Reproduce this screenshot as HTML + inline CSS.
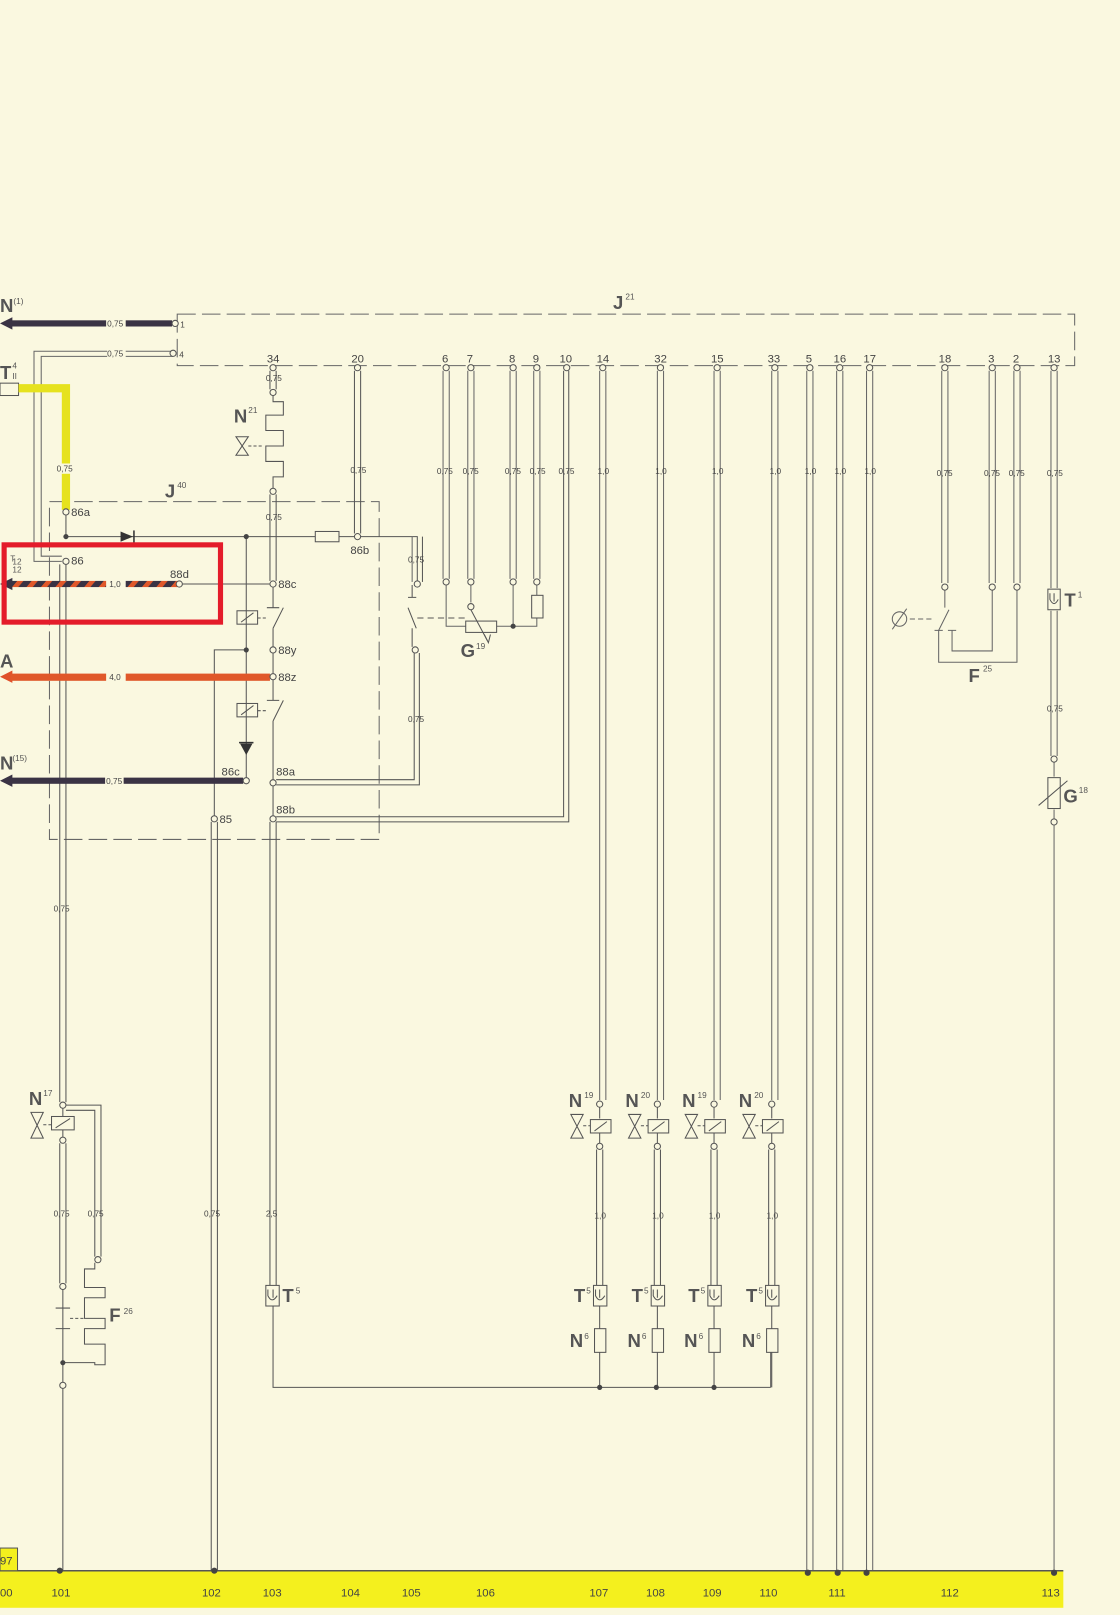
<!DOCTYPE html>
<html><head><meta charset="utf-8"><style>
html,body{margin:0;padding:0;background:#faf8e0;}
svg{display:block}
text{font-family:"Liberation Sans",sans-serif;fill:#444}
.s{font-size:8px}
.t{font-size:11px}
.b{font-size:18px;font-weight:bold;fill:#555}
.sup{font-size:8px;fill:#555}
</style></head><body>
<svg width="1120" height="1615" viewBox="0 0 1087 1568" preserveAspectRatio="none" xmlns="http://www.w3.org/2000/svg">
<rect width="1087" height="1568" fill="#faf8e0"/>
<defs>
<pattern id="str" width="14" height="8" patternUnits="userSpaceOnUse" patternTransform="skewX(-40)">
<rect width="14" height="8" fill="#3a3344"/><rect width="6" height="8" fill="#e0582a"/></pattern>
</defs>
<g stroke="#666" stroke-width="1" fill="none">
<!-- J21 box -->
<path d="M172 305 H1043 V355 H172 Z" stroke-dasharray="18 6"/>
<!-- J40 box -->
<path d="M48 487 H368 V815 H48 Z" stroke-dasharray="18 6"/>
</g>
<!-- labels boxes -->
<text x="595" y="300" class="b">J</text><text x="607" y="291" class="sup">21</text>
<text x="160" y="483" class="b">J</text><text x="172" y="474" class="sup">40</text>

<!-- Top arrows -->
<text x="0" y="303" class="b">N</text><text x="13" y="295" class="sup">(1)</text>
<path d="M0 314 L12 308 L12 320 Z" fill="#3a3344"/>
<rect x="10" y="311" width="93" height="6" fill="#3a3344"/><rect x="122" y="311" width="45" height="6" fill="#3a3344"/>
<text x="104" y="317" class="s">0,75</text>
<circle cx="170" cy="314" r="3" fill="#faf8e0" stroke="#555"/><text x="175" y="318" class="s">1</text>
<g stroke="#666" stroke-width="1" fill="none">
<path d="M168 341 H33 V545 H60"/><path d="M168 346 H40 V540 H60"/>
</g>
<rect x="104" y="339" width="18" height="8" fill="#faf8e0"/><text x="104" y="346" class="s">0,75</text>
<circle cx="168" cy="343" r="3" fill="#faf8e0" stroke="#555"/><text x="174" y="347" class="s">4</text>

<!-- T II connector + yellow -->
<text x="0" y="368" class="b">T</text><text x="12" y="358" class="sup">4</text><text x="12" y="368" class="sup">II</text>
<rect x="0" y="372" width="18" height="12" fill="#faf8e0" stroke="#555"/>
<path d="M18 377 H64 V495" stroke="#e6e21e" stroke-width="8" fill="none"/>
<rect x="54" y="450" width="20" height="10" fill="#faf8e0"/><text x="55" y="458" class="s">0,75</text>
<circle cx="64" cy="497" r="3" fill="#faf8e0" stroke="#555"/><text x="69" y="501" class="t">86a</text>
<text x="10" y="545" class="sup">T</text><text x="12" y="548" class="sup">12</text><text x="12" y="556" class="sup">12</text>

<g stroke="#555" stroke-width="1" fill="none">
<!-- 86a line -->
<path d="M64 500 V521 H405 V565"/><path d="M410 521 V565"/>
<path d="M400 521 V565" stroke="#666"/>
<!-- col 101 -->
<path d="M58 548 V1070"/><path d="M64 548 V1070"/>
<path d="M239 521 V760"/>
<path d="M239 631 H208 V795"/>
<path d="M174 567 H262"/>
<!-- col 34 -->
<path d="M262 360 V378"/><path d="M268 360 V378"/>
<path d="M265 383 V390 H275 V403 H258 V418 H275 V433 H258 V448 H275 V463 H265 V474"/>
<path d="M262 480 V564"/><path d="M268 480 V564"/>
<path d="M265 570 V590 M259 590 H271 M275 590 L265 610 M265 610 V628"/>
<path d="M265 634 V654"/>
<path d="M265 660 V680 M259 680 H271 M275 680 L265 700 M265 700 V757"/>
<path d="M265 763 V792"/>
<path d="M262 798 V1248"/><path d="M268 798 V1248"/>
<path d="M265 1268 V1347 H748"/>
<!-- relays -->
<rect x="230" y="593" width="20" height="13"/><path d="M234 604 L246 595"/><path d="M250 600 H258" stroke-dasharray="3 2"/>
<rect x="230" y="683" width="20" height="13"/><path d="M234 694 L246 685"/><path d="M250 690 H258" stroke-dasharray="3 2"/>
<!-- 88a, 88b -->
<path d="M268 757 H402 V634"/><path d="M268 762 H407 V634"/>
<path d="M400 568 V580 M396 580 H404 M396 590 L404 610 M400 610 V628"/>
<path d="M405 600 H452" stroke-dasharray="6 4"/>
<path d="M268 793 H547 V360"/><path d="M268 798 H552 V360"/>
<!-- col 20 -->
<path d="M344 360 V518"/><path d="M350 360 V518"/>
<!-- col 85 / 102 -->
<path d="M205 798 V1525"/><path d="M211 798 V1525"/>
</g>
<!-- diode -->
<path d="M117 516 L129 521 L117 526 Z" fill="#333"/><path d="M130 515 V527" stroke="#333" stroke-width="1.5"/>
<path d="M233 722 L245 722 L239 733 Z" fill="#333"/><path d="M232 721 H246" stroke="#333" stroke-width="1.5"/>
<circle cx="64" cy="521" r="2.5" fill="#444"/><circle cx="239" cy="521" r="2.5" fill="#444"/><circle cx="239" cy="631" r="2.5" fill="#444"/>
<rect x="306" y="516" width="23" height="10" fill="#faf8e0" stroke="#555"/>
<circle cx="347" cy="521" r="3" fill="#faf8e0" stroke="#555"/><text x="340" y="538" class="t">86b</text>
<circle cx="64" cy="545" r="3" fill="#faf8e0" stroke="#555"/><text x="69" y="548" class="t">86</text>

<!-- 88d striped -->
<path d="M0 567 L12 561 L12 573 Z" fill="#3a3344"/>
<rect x="10" y="564" width="93" height="6" fill="url(#str)"/><rect x="122" y="564" width="50" height="6" fill="url(#str)"/>
<text x="106" y="570" class="s">1,0</text>
<circle cx="174" cy="567" r="3" fill="#faf8e0" stroke="#555"/><text x="165" y="561" class="t">88d</text>
<circle cx="265" cy="567" r="3" fill="#faf8e0" stroke="#555"/><text x="270" y="571" class="t">88c</text>
<circle cx="265" cy="631" r="3" fill="#faf8e0" stroke="#555"/><text x="270" y="635" class="t">88y</text>
<!-- A -->
<text x="0" y="648" class="b">A</text>
<path d="M0 657 L12 651 L12 663 Z" fill="#e0502a"/>
<rect x="10" y="654" width="93" height="7" fill="#e0582a"/><rect x="122" y="654" width="140" height="7" fill="#e0582a"/>
<text x="106" y="660" class="s">4,0</text>
<circle cx="265" cy="657" r="3" fill="#faf8e0" stroke="#555"/><text x="270" y="661" class="t">88z</text>
<!-- N15 -->
<text x="0" y="747" class="b">N</text><text x="12" y="739" class="sup">(15)</text>
<path d="M0 758 L12 752 L12 764 Z" fill="#3a3344"/>
<rect x="10" y="755" width="92" height="6" fill="#3a3344"/><rect x="120" y="755" width="116" height="6" fill="#3a3344"/>
<text x="103" y="761" class="s">0,75</text>
<circle cx="239" cy="758" r="3" fill="#faf8e0" stroke="#555"/><text x="215" y="753" class="t">86c</text>
<circle cx="265" cy="760" r="3" fill="#faf8e0" stroke="#555"/><text x="268" y="753" class="t">88a</text>
<circle cx="265" cy="795" r="3" fill="#faf8e0" stroke="#555"/><text x="268" y="790" class="t">88b</text>
<circle cx="208" cy="795" r="3" fill="#faf8e0" stroke="#555"/><text x="213" y="799" class="t">85</text>

<!-- red highlight -->
<rect x="4" y="529" width="210" height="75" fill="none" stroke="#e41c2a" stroke-width="5"/>

<!-- terminal labels top -->
<g class="t">
<text x="259" y="352" class="t">34</text><text x="341" y="352" class="t">20</text>
<text x="429" y="352" class="t">6</text><text x="453" y="352" class="t">7</text>
<text x="494" y="352" class="t">8</text><text x="517" y="352" class="t">9</text>
<text x="543" y="352" class="t">10</text><text x="579" y="352" class="t">14</text>
<text x="635" y="352" class="t">32</text><text x="690" y="352" class="t">15</text>
<text x="745" y="352" class="t">33</text><text x="782" y="352" class="t">5</text>
<text x="809" y="352" class="t">16</text><text x="838" y="352" class="t">17</text>
<text x="911" y="352" class="t">18</text><text x="959" y="352" class="t">3</text>
<text x="983" y="352" class="t">2</text><text x="1017" y="352" class="t">13</text>
</g>
<g stroke="#666" stroke-width="1" fill="none">
<!-- 6,7,8,9 -->
<path d="M430 360 V562 M436 360 V562 M454 360 V562 M460 360 V562 M495 360 V562 M501 360 V562 M518 360 V562 M524 360 V562"/>
<path d="M433 568 V608 H452 M457 568 V585 M498 568 V608 M482 608 H521 V600 M521 568 V578"/>
<!-- long columns -->
<path d="M582 360 V1068 M588 360 V1068 M638 360 V1068 M644 360 V1068 M693 360 V1068 M699 360 V1068 M749 360 V1068 M755 360 V1068"/>
<path d="M783 360 V1525 M789 360 V1525 M812 360 V1525 M818 360 V1525 M841 360 V1525 M847 360 V1525"/>
<!-- 18,3,2 -->
<path d="M914 360 V566 M920 360 V566 M960 360 V566 M966 360 V566 M984 360 V566 M990 360 V566"/>
<path d="M917 573 V590 M921 592 L911 612 M907 612 H915 M920 612 H928 M924 612 V632 H963 V573 M911 612 V643 H987 V573"/>
<path d="M883 601 H906" stroke-dasharray="5 3"/>
<!-- 13 -->
<path d="M1020 360 V571 M1026 360 V571 M1020 593 V734 M1026 593 V734 M1023 740 V754 M1023 786 V795 M1023 801 V1525"/>
</g>
<!-- top terminal circles -->
<g fill="#faf8e0" stroke="#555">
<circle cx="265" cy="357" r="3"/><circle cx="265" cy="381" r="3"/><circle cx="265" cy="477" r="3"/><circle cx="347" cy="357" r="3"/>
<circle cx="433" cy="357" r="3"/><circle cx="457" cy="357" r="3"/><circle cx="498" cy="357" r="3"/><circle cx="521" cy="357" r="3"/>
<circle cx="550" cy="357" r="3"/><circle cx="585" cy="357" r="3"/><circle cx="641" cy="357" r="3"/><circle cx="696" cy="357" r="3"/>
<circle cx="752" cy="357" r="3"/><circle cx="786" cy="357" r="3"/><circle cx="815" cy="357" r="3"/><circle cx="844" cy="357" r="3"/>
<circle cx="917" cy="357" r="3"/><circle cx="963" cy="357" r="3"/><circle cx="987" cy="357" r="3"/><circle cx="1023" cy="357" r="3"/>
<circle cx="433" cy="565" r="3"/><circle cx="457" cy="565" r="3"/><circle cx="457" cy="589" r="3"/><circle cx="498" cy="565" r="3"/><circle cx="521" cy="565" r="3"/>
<circle cx="405" cy="567" r="3"/><circle cx="403" cy="631" r="3"/>
<circle cx="917" cy="570" r="3"/><circle cx="963" cy="570" r="3"/><circle cx="987" cy="570" r="3"/>
<circle cx="1023" cy="737" r="3"/><circle cx="1023" cy="798" r="3"/>
</g>
<!-- wire size labels row -->
<g class="s">
<text x="258" y="370">0,75</text><text x="258" y="505">0,75</text><text x="340" y="459">0,75</text>
<text x="396" y="546">0,75</text><text x="396" y="701">0,75</text>
<text x="424" y="460">0,75</text><text x="449" y="460">0,75</text><text x="490" y="460">0,75</text><text x="514" y="460">0,75</text><text x="542" y="460">0,75</text>
<text x="580" y="460">1,0</text><text x="636" y="460">1,0</text><text x="691" y="460">1,0</text><text x="747" y="460">1,0</text>
<text x="781" y="460">1,0</text><text x="810" y="460">1,0</text><text x="839" y="460">1,0</text>
<text x="909" y="462">0,75</text><text x="955" y="462">0,75</text><text x="979" y="462">0,75</text><text x="1016" y="462">0,75</text>
<text x="1016" y="691">0,75</text>
<text x="52" y="885">0,75</text><text x="52" y="1181">0,75</text><text x="85" y="1181">0,75</text><text x="198" y="1181">0,75</text><text x="258" y="1181">2,5</text>
<text x="577" y="1183">1,0</text><text x="633" y="1183">1,0</text><text x="688" y="1183">1,0</text><text x="744" y="1183">1,0</text>
</g>
<!-- N21 -->
<text x="227" y="410" class="b">N</text><text x="241" y="401" class="sup">21</text>
<path d="M229 424 H241 L229 442 H241 Z" fill="none" stroke="#555"/><path d="M241 433 H256" stroke="#555" stroke-dasharray="3 2"/>
<!-- resistor on 9, G19 -->
<rect x="516" y="578" width="11" height="22" fill="#faf8e0" stroke="#555"/>
<rect x="452" y="603" width="30" height="11" fill="#faf8e0" stroke="#555"/>
<path d="M457 592 L473 622" stroke="#555"/><path d="M470 616 L474 624 L476 616" fill="none" stroke="#555"/>
<circle cx="498" cy="608" r="2.5" fill="#444"/>
<text x="447" y="638" class="b">G</text><text x="462" y="630" class="sup">19</text>
<!-- F25 -->
<circle cx="873" cy="601" r="7" fill="none" stroke="#666"/><path d="M866 611 L880 591" stroke="#666"/>
<text x="940" y="662" class="b">F</text><text x="954" y="652" class="sup">25</text>
<!-- T1 -->
<rect x="1017" y="572" width="12" height="20" fill="#faf8e0" stroke="#555"/><path d="M1019 576 V582 Q1023 590 1027 582 M1023 576 V584" fill="none" stroke="#555"/>
<text x="1033" y="589" class="b">T</text><text x="1046" y="580" class="sup">1</text>
<!-- G18 -->
<rect x="1017" y="755" width="12" height="30" fill="#faf8e0" stroke="#555"/><path d="M1008 782 L1036 758" stroke="#555"/>
<text x="1032" y="779" class="b">G</text><text x="1047" y="770" class="sup">18</text>

<!-- N17 & F26 -->
<text x="28" y="1073" class="b">N</text><text x="42" y="1064" class="sup">17</text>
<path d="M30 1080 H42 L30 1105 H42 Z" fill="none" stroke="#555"/><path d="M42 1092 H50" stroke="#555" stroke-dasharray="3 2"/>
<rect x="50" y="1084" width="22" height="13" fill="#faf8e0" stroke="#555"/><path d="M54 1095 L68 1086" stroke="#555"/>
<g stroke="#555" fill="none">
<path d="M64 1073 H98 V1220 M64 1078 H92 V1220"/>
<path d="M61 1076 V1084 M61 1097 V1104"/>
<path d="M58 1110 V1246 M64 1110 V1246"/>
<path d="M61 1252 V1270 M54 1270 H68 M61 1270 V1290 M54 1290 H68 M61 1290 V1342 M61 1348 V1525"/>
<path d="M92 1226 V1232 H82 V1250 H102 V1260 H82 V1280 H102 V1290 H82 V1305 H102 V1325 H92 V1323 H61"/>
<path d="M68 1280 H82" stroke-dasharray="3 2"/>
</g>
<circle cx="61" cy="1073" r="3" fill="#faf8e0" stroke="#555"/><circle cx="61" cy="1107" r="3" fill="#faf8e0" stroke="#555"/>
<circle cx="61" cy="1249" r="3" fill="#faf8e0" stroke="#555"/><circle cx="95" cy="1223" r="3" fill="#faf8e0" stroke="#555"/>
<circle cx="61" cy="1323" r="2.5" fill="#444"/><circle cx="61" cy="1345" r="3" fill="#faf8e0" stroke="#555"/>
<text x="106" y="1283" class="b">F</text><text x="120" y="1276" class="sup">26</text>
<!-- T5 col 103 -->
<rect x="258" y="1248" width="13" height="20" fill="#faf8e0" stroke="#555"/><path d="M260 1252 V1258 Q264 1266 269 1258 M265 1252 V1260" fill="none" stroke="#555"/>
<text x="274" y="1264" class="b">T</text><text x="287" y="1256" class="sup">5</text>

<!-- valves row -->
<g id="v">
<g stroke="#555" fill="none">
<path d="M582 1075 V1086 M582 1100 V1110 M579 1116 V1248 M585 1116 V1248 M582 1268 V1290 M582 1313 V1347"/>
<path d="M554 1082 H566 L554 1105 H566 Z"/><path d="M566 1093 H573" stroke-dasharray="3 2"/>
<rect x="573" y="1087" width="20" height="13" fill="#faf8e0"/><path d="M577 1098 L589 1089"/>
<rect x="576" y="1248" width="13" height="20" fill="#faf8e0"/><path d="M578 1252 V1258 Q582 1266 587 1258 M582 1252 V1260"/>
<rect x="577" y="1290" width="11" height="23" fill="#faf8e0"/>
</g>
<circle cx="582" cy="1072" r="3" fill="#faf8e0" stroke="#555"/><circle cx="582" cy="1113" r="3" fill="#faf8e0" stroke="#555"/>
<text x="557" y="1264" class="b">T</text><text x="569" y="1256" class="sup">5</text>
<text x="553" y="1308" class="b">N</text><text x="567" y="1300" class="sup">6</text>
</g>
<use href="#v" x="56"/><use href="#v" x="111"/><use href="#v" x="167"/>
<g fill="#faf8e0"><rect x="570" y="1055" width="150" height="1" opacity="0"/></g>
<text x="552" y="1075" class="b">N</text><text x="567" y="1066" class="sup">19</text>
<text x="607" y="1075" class="b">N</text><text x="622" y="1066" class="sup">20</text>
<text x="662" y="1075" class="b">N</text><text x="677" y="1066" class="sup">19</text>
<text x="717" y="1075" class="b">N</text><text x="732" y="1066" class="sup">20</text>
<path d="M748 1313 V1347" stroke="#555"/>
<circle cx="582" cy="1347" r="2.5" fill="#444"/><circle cx="637" cy="1347" r="2.5" fill="#444"/><circle cx="693" cy="1347" r="2.5" fill="#444"/>

<!-- bus -->
<rect x="0" y="1525" width="1032" height="36" fill="#f4f01e"/>
<path d="M0 1525 H1032" stroke="#555" stroke-width="1.5"/>
<rect x="0" y="1503" width="17" height="22" fill="#f4f01e" stroke="#555"/><text x="0" y="1519" class="t">97</text>
<g fill="#444"><circle cx="58" cy="1525" r="3"/><circle cx="208" cy="1525" r="3"/><circle cx="784" cy="1527" r="3"/><circle cx="813" cy="1527" r="3"/><circle cx="841" cy="1527" r="3"/><circle cx="1023" cy="1527" r="3"/></g>
<g class="t">
<text x="0" y="1550" class="t">00</text><text x="50" y="1550" class="t">101</text><text x="196" y="1550" class="t">102</text><text x="255" y="1550" class="t">103</text>
<text x="331" y="1550" class="t">104</text><text x="390" y="1550" class="t">105</text><text x="462" y="1550" class="t">106</text><text x="572" y="1550" class="t">107</text>
<text x="627" y="1550" class="t">108</text><text x="682" y="1550" class="t">109</text><text x="737" y="1550" class="t">110</text><text x="804" y="1550" class="t">111</text>
<text x="913" y="1550" class="t">112</text><text x="1011" y="1550" class="t">113</text>
</g>
</svg>
</body></html>
